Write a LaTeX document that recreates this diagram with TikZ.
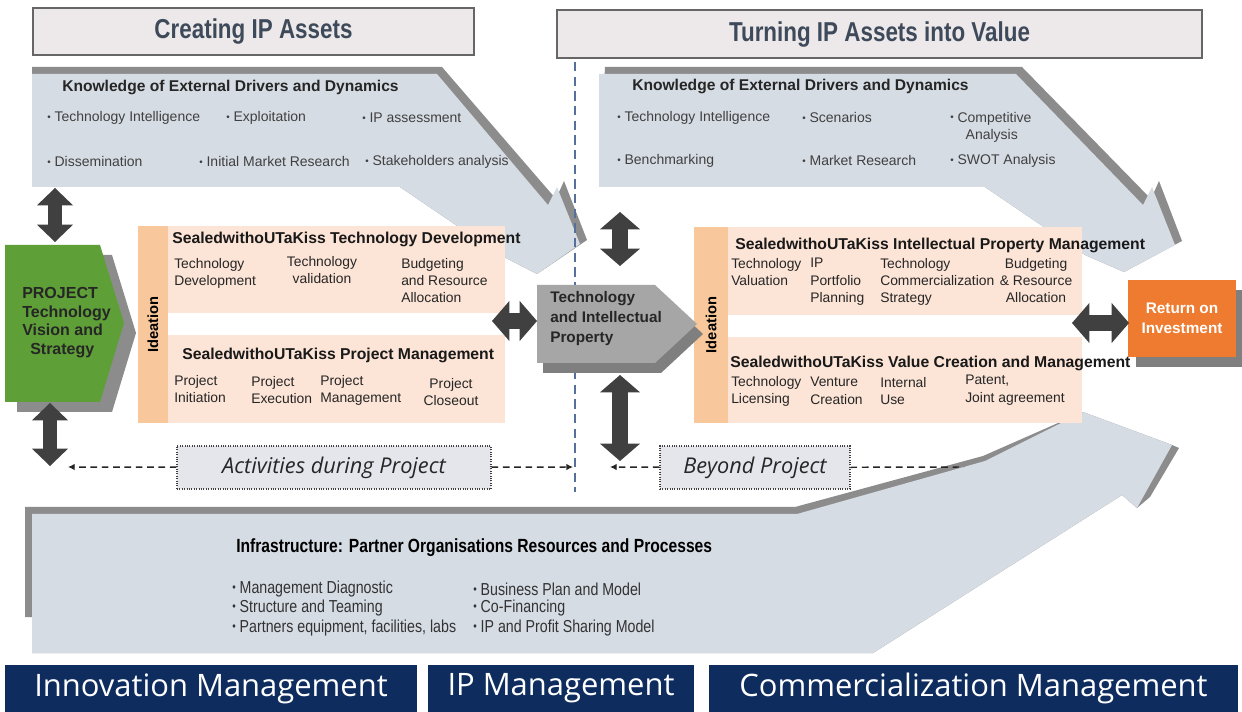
\documentclass[tikz,border=0pt]{standalone}
\usepackage{fontspec}
\setmainfont{Liberation Sans}
\newfontfamily\narrowsf[FakeStretch=0.82]{Liberation Sans}
\newfontfamily\opensf{Open Sans}
\usetikzlibrary{shapes,positioning,arrows.meta,fit,calc}
\pgfdeclarelayer{background}
\pgfsetlayers{background,main}
\definecolor{flowblue}{HTML}{D6DCE4}
\definecolor{flowedge}{HTML}{8C8C8C}
\definecolor{peach}{HTML}{FCE4D6}
\definecolor{ideaorange}{HTML}{F8C79B}
\definecolor{fatgray}{HTML}{404040}
\definecolor{ttlfill}{HTML}{EDE9EB}
\definecolor{ttltext}{HTML}{3E4A5A}
\definecolor{projgreen}{HTML}{5E9F38}
\definecolor{tipgray}{HTML}{A6A6A6}
\definecolor{dropgray}{HTML}{7F7F7F}
\definecolor{roiorange}{HTML}{EE7B30}
\definecolor{barnavy}{HTML}{0E2C5E}
\definecolor{divblue}{HTML}{55709A}
\definecolor{notegray}{HTML}{E4E6EC}
\newcommand{\blt}{\raisebox{.2ex}{\scalebox{.7}{\textbullet}}\ }

\begin{document}
\begin{tikzpicture}[x=0.75pt, y=-0.75pt,
  every node/.style={inner sep=0pt},
  ttl/.style={draw=black!60, line width=1.2pt, fill=ttlfill},
  ttltxt/.style={text=ttltext, font=\narrowsf\bfseries\fontsize{20.5}{24}\selectfont},
  khead/.style={anchor=west, text=black!85, font=\bfseries\fontsize{11.7}{14}\selectfont},
  kitem/.style={anchor=west, align=left, text=black!75, font=\fontsize{10.5}{12.75}\selectfont},
  idea/.style={fill=ideaorange},
  ideatxt/.style={rotate=90, font=\bfseries\fontsize{11}{13}\selectfont},
  pbox/.style={fill=peach},
  sub/.style={anchor=west, text=black!90, font=\bfseries\fontsize{11.8}{13}\selectfont},
  item/.style={anchor=north west, align=left, text=black!85, font=\fontsize{10.4}{13}\selectfont},
  tag/.style={anchor=north west, align=left, text=black!85, font=\bfseries\fontsize{12}{14}\selectfont},
  note/.style={draw=black!75, densely dotted, line width=0.8pt, fill=notegray},
  notetxt/.style={text=black!85, font=\opensf\itshape\fontsize{16.3}{18}\selectfont},
  dlink/.style={black!85, line width=1.1pt, dash pattern=on 5pt off 3.5pt, -{Latex[length=5pt,width=5pt]}},
  fat/.style={fatgray, line width=10.5pt, {Triangle[width=27pt,length=13pt,line width=0pt]}-{Triangle[width=27pt,length=13pt,line width=0pt]}},
  wide/.style={line width=11.5pt, {Triangle[width=30pt,length=13pt,line width=0pt]}-{Triangle[width=30pt,length=13pt,line width=0pt]}},
  ibul/.style={anchor=west, text=black!80, font=\narrowsf\fontsize{13}{15}\selectfont},
  phase/.style={fill=barnavy},
  phasetxt/.style={text=white, font=\opensf\fontsize{23.2}{27}\selectfont}]

\useasboundingbox (0,0) rectangle (1242,712);

\begin{pgfonlayer}{background}
  \fill[white] (0,0) rectangle (1242,712);
  % external drivers, creating side
  \fill[flowedge] (32,67) -- (442,67) -- (556,199) -- (564,181) -- (587,240) -- (537,274) -- (500,255) -- (400,187) -- (32,187) -- cycle;
  \fill[flowblue] (32,74) -- (437,74) -- (548,205) -- (557,187) -- (580,244) -- (537,274) -- (500,255) -- (400,187) -- (32,187) -- cycle;
  % external drivers, value side
  \fill[flowedge] (605,67) -- (1022,67) -- (1151,199) -- (1159,181) -- (1182,241) -- (1124,272) -- (1085,255) -- (985,187) -- (599,187) -- cycle;
  \fill[flowblue] (599,74) -- (1016,74) -- (1143,205) -- (1152,187) -- (1175,245) -- (1124,272) -- (1085,255) -- (985,187) -- (599,187) -- cycle;
  % infrastructure
  \fill[flowedge] (25,507) -- (795,507) -- (983,456) -- (1083,412) -- (1172,445) -- (1179,448) -- (1150,497) -- (1137,508) -- (1122,495) -- (873,653) -- (32,653) -- (32,617) -- (25,617) -- cycle;
  \fill[flowblue] (32,514) -- (797,514) -- (985,461) -- (1083,412) -- (1172,445) -- (1137,508) -- (1122,495) -- (873,653) -- (32,653) -- cycle;
\end{pgfonlayer}

\draw[divblue, line width=1pt, dash pattern=on 7pt off 4pt] (575,62) -- (575,492);

\node[ttl, fit={(33,8) (474,55)}] (crt) {};
\node[ttltxt] (crtl) at (crt) {Creating IP Assets};
\node[ttl, fit={(557,10) (1202,58)}] (trn) {};
\node[ttltxt] (trnl) at (trn) {Turning IP Assets into Value};

\node[khead] (kl) at (62,88) {Knowledge of External Drivers and Dynamics};
\node[kitem] (kl1) at (47,118) {\blt Technology Intelligence};
\node[kitem] (kl2) at (226,118) {\blt Exploitation};
\node[kitem] (kl3) at (362,118) {\blt IP assessment};
\node[kitem] (kl4) at (47,162) {\blt Dissemination};
\node[kitem] (kl5) at (199,162) {\blt Initial Market Research};
\node[kitem] (kl6) at (365,162) {\blt Stakeholders analysis};

\node[khead] (kr) at (632,87) {Knowledge of External Drivers and Dynamics};
\node[kitem] (kr1) at (617,118) {\blt Technology Intelligence};
\node[kitem] (kr2) at (802,118) {\blt Scenarios};
\node[kitem] (kr3) at (950,127) {\blt Competitive\\\hspace*{1.1em}Analysis};
\node[kitem] (kr4) at (617,161) {\blt Benchmarking};
\node[kitem] (kr5) at (802,161) {\blt Market Research};
\node[kitem] (kr6) at (950,161) {\blt SWOT Analysis};

% project vision
\fill[flowedge] (17,255) -- (112,255) -- (136,333) -- (112,412) -- (17,412) -- cycle;
\fill[projgreen] (5,245) -- (100,245) -- (124,323) -- (100,402) -- (5,402) -- cycle;
\node[tag] (prj) at (22,287) {PROJECT\\Technology\\Vision and\\\hspace*{0.5em}Strategy};

% creating side boxes
\node[idea, fit={(138,226) (168,423)}] (il) {};
\node[ideatxt] (ilt) at (il) {Ideation};
\node[pbox, fit={(168,226) (505,313)}] (td) {};
\node[pbox, fit={(168,335) (505,423)}] (pm) {};

\node[sub] (tdh) at (172,239) {SealedwithoUTaKiss Technology Development};
\node[item] (td1) at (174,258) {Technology\\Development};
\node[item, anchor=north, align=center] (td2) at (322,256) {Technology\\validation};
\node[item] (td3) at (401,258) {Budgeting\\and Resource\\Allocation};

\node[sub] (pmh) at (182,355) {SealedwithoUTaKiss Project Management};
\node[item] (pm1) at (174,375) {Project\\Initiation};
\node[item] (pm2) at (251,376) {Project\\Execution};
\node[item] (pm3) at (320,375) {Project\\Management};
\node[item, anchor=north, align=center] (pm4) at (451,378) {Project\\Closeout};

% value side boxes
\node[idea, fit={(694,227) (728,423)}] (ir) {};
\node[ideatxt] (irt) at (ir) {Ideation};
\node[pbox, fit={(728,227) (1082,315)}] (ip) {};
\node[pbox, fit={(728,337) (1082,423)}] (vc) {};

\node[sub] (iph) at (735,245) {SealedwithoUTaKiss Intellectual Property Management};
\node[item] (ip1) at (731,258) {Technology\\Valuation};
\node[item] (ip2) at (810,258) {IP\\Portfolio\\Planning};
\node[item] (ip3) at (880,258) {Technology\\Commercialization\\Strategy};
\node[item, anchor=north, align=center] (ip4) at (1036,258) {Budgeting\\\& Resource\\Allocation};

\node[sub] (vch) at (730,363) {SealedwithoUTaKiss Value Creation and Management};
\node[item] (vc1) at (731,376) {Technology\\Licensing};
\node[item] (vc2) at (810,377) {Venture\\Creation};
\node[item] (vc3) at (880,377) {Internal\\Use};
\node[item] (vc4) at (965,375) {Patent,\\Joint agreement};

% technology and IP
\fill[dropgray] (543,295) -- (661,295) -- (703,334) -- (661,373) -- (543,373) -- cycle;
\fill[tipgray] (537,285) -- (655,285) -- (697,324) -- (655,363) -- (537,363) -- cycle;
\node[tag, font=\bfseries\fontsize{11.5}{15}\selectfont] (tip) at (550,291) {Technology\\and Intellectual\\Property};

% return on investment
\fill[dropgray] (1136,290) rectangle (1244,367);
\node[fill=roiorange, fit={(1128,280) (1236,357)}] (roi) {};
\node[text=white, align=center, font=\bfseries\fontsize{11.5}{15}\selectfont] (roil) at (roi) {Return on\\Investment};

% project span
\node[note, fit={(177,446) (491,489)}] (act) {};
\node[notetxt] (actl) at (act) {Activities during Project};
\node[note, fit={(660,446) (850,489)}] (bey) {};
\node[notetxt] (beyl) at (bey) {Beyond Project};
\coordinate (al) at (68,467);
\coordinate (ar) at (573,467);
\coordinate (bl) at (610,467);
\coordinate (br) at (964,467);
\draw[dlink] (act) -- (al);
\draw[dlink] (act) -- (ar);
\draw[dlink] (bey) -- (bl);
\draw[dlink, -] (bey) -- (br);

% infrastructure
\node[anchor=west, font=\narrowsf\bfseries\fontsize{14.3}{16}\selectfont] (inf) at (236,548) {Infrastructure: Partner Organisations Resources and Processes};
\node[ibul] (in1) at (232,589) {\blt Management Diagnostic};
\node[ibul] (in2) at (232,608) {\blt Structure and Teaming};
\node[ibul] (in3) at (232,628) {\blt Partners equipment, facilities, labs};
\node[ibul] (in4) at (473,589) {\blt Business Plan and Model};
\node[ibul] (in5) at (473,608) {\blt Co-Financing};
\node[ibul] (in6) at (473,628) {\blt IP and Profit Sharing Model};

% block arrows
\coordinate (k1) at (55,188);   \coordinate (k2) at (55,242);
\coordinate (p1) at (50,403);   \coordinate (p2) at (50,466);
\coordinate (t1) at (620,212);  \coordinate (t2) at (620,266);
\coordinate (t3) at (620,375);  \coordinate (t4) at (620,461);
\coordinate (h1) at (492,321);  \coordinate (h2) at (537,321);
\coordinate (h3) at (1072,323); \coordinate (h4) at (1129,323);
\draw[fat] (k1) -- (k2);
\draw[fat] (p1) -- (p2);
\draw[fat, wide] (t1) -- (t2);
\draw[fat, wide] (t3) -- (t4);
\draw[fat, wide] (h1) -- (h2);
\draw[fat, wide] (h3) -- (h4);

\node[phase, fit={(5,665) (417,712)}] (inn) {};
\node[phasetxt] (innl) at (inn) {Innovation Management};
\node[phase, fit={(428,665) (694,712)}] (ipm) {};
\node[phasetxt] (ipml) at (ipm) {IP Management};
\node[phase, fit={(709,665) (1238,712)}] (com) {};
\node[phasetxt] (coml) at (com) {Commercialization Management};
\end{tikzpicture}
\end{document}
